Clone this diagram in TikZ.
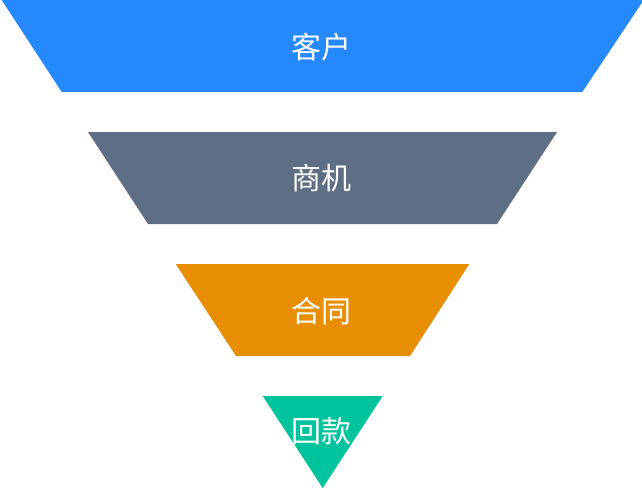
\documentclass[tikz,border=0pt]{standalone}
\usepackage{fontspec}
\newfontfamily\cjk{Noto Sans CJK SC}
\definecolor{cblue}{HTML}{2589FB}
\definecolor{cgray}{HTML}{5E6E84}
\definecolor{corange}{HTML}{E88E05}
\definecolor{cgreen}{HTML}{01C39E}
\begin{document}
\begin{tikzpicture}[x=1pt,y=-1pt,
  lbl/.style={text=white,font=\cjk\fontsize{30}{36}\selectfont,inner sep=0pt}]
\useasboundingbox (0,0) rectangle (642,488);
\fill[cblue] (1.7,0) -- (642,0) -- (642,2.6) -- (582.3,92) -- (61.7,92) -- cycle;
\fill[cgray] (88,132) -- (557,132) -- (497,224) -- (148,224) -- cycle;
\fill[corange] (175.7,264) -- (469.3,264) -- (410,356) -- (236,356) -- cycle;
\fill[cgreen] (262.7,396) -- (382.7,396) -- (322.7,488) -- cycle;
\node[lbl] (a) at (321,47) {客户};
\node[lbl] (b) at (321,178) {商机};
\node[lbl] (c) at (321,311) {合同};
\node[lbl] (d) at (321,431) {回款};
\end{tikzpicture}
\end{document}
